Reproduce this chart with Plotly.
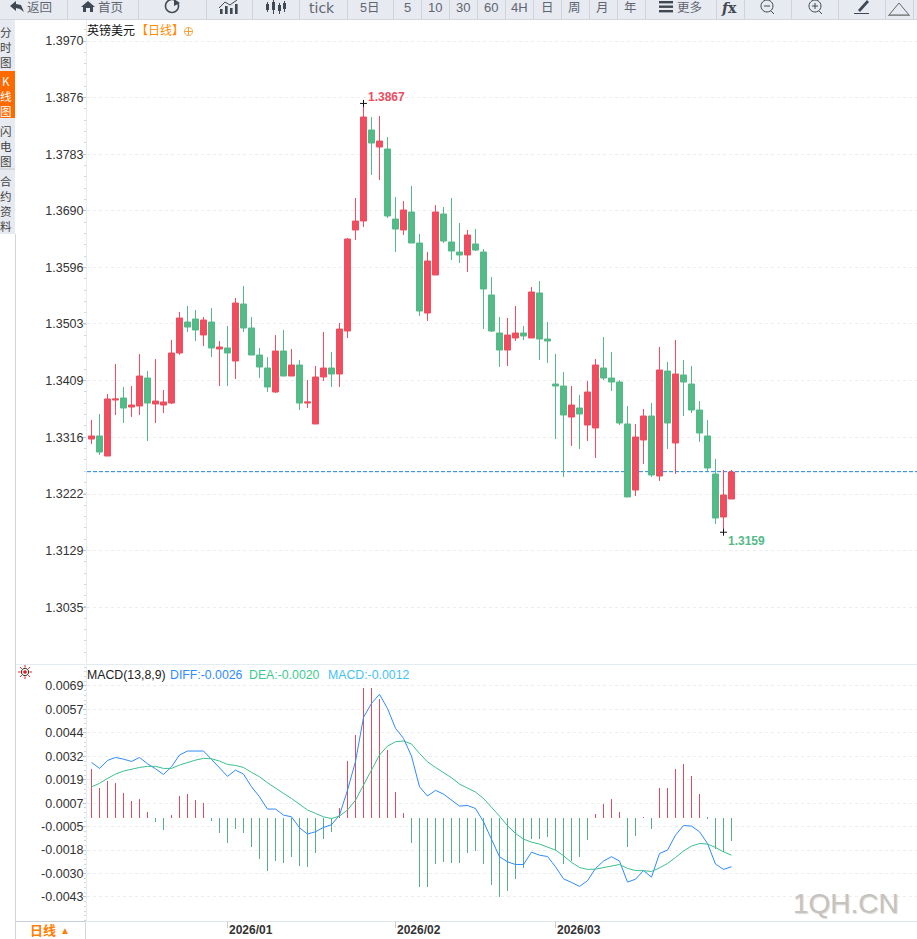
import math
import pandas as pd
import plotly.graph_objects as go

W, H = 917, 939

dates = [d.strftime("%Y-%m-%d") for d in pd.bdate_range("2025-12-10", periods=81)]

opens = [1.33129,1.33179,1.32848,1.33773,1.33806,1.33657,1.33674,1.34136,1.33707,1.33690,
1.33723,1.34549,1.35061,1.35110,1.34846,1.35061,1.34615,1.34632,1.34417,1.35358,
1.34962,1.34516,1.34301,1.33905,1.34582,1.34169,1.34351,1.33723,1.33377,1.34153,
1.34301,1.34202,1.34912,1.36580,1.36728,1.38231,1.37950,1.37917,1.36761,1.36580,
1.36877,1.36365,1.35209,1.35837,1.36844,1.36382,1.36216,1.36167,1.36349,1.36216,
1.35507,1.34879,1.34598,1.34797,1.34879,1.34797,1.35540,1.34780,1.34037,1.34004,
1.33492,1.33641,1.33360,1.33311,1.34301,1.34136,1.34070,1.33377,1.32287,1.33113,
1.33509,1.32518,1.34252,1.33063,1.34186,1.34037,1.33608,1.33179,1.32551,1.31841,1.32139]
closes = [1.33179,1.32914,1.33790,1.33790,1.33641,1.33690,1.34169,1.33723,1.33756,1.33740,
1.34549,1.35127,1.34978,1.34929,1.35094,1.34632,1.34648,1.34549,1.35374,1.34962,
1.34516,1.34318,1.33988,1.34582,1.34169,1.34351,1.33723,1.33740,1.34153,1.34301,
1.34202,1.34945,1.36431,1.36728,1.38445,1.38016,1.38049,1.36811,1.36596,1.36910,
1.36365,1.35242,1.36068,1.36877,1.36398,1.36233,1.36167,1.36497,1.36249,1.35606,
1.34912,1.34598,1.34846,1.34879,1.34830,1.35556,1.34780,1.34747,1.34004,1.33525,
1.33690,1.33542,1.33905,1.34351,1.34136,1.34070,1.33393,1.32172,1.33162,1.33509,
1.32535,1.34268,1.33393,1.34202,1.34070,1.33608,1.33228,1.32650,1.31825,1.32205,1.32584]
highs = [1.33443,1.33542,1.33872,1.34367,1.33988,1.34004,1.34532,1.34252,1.34450,1.33938,
1.34764,1.35226,1.35325,1.35259,1.35143,1.35292,1.34747,1.34995,1.35457,1.35655,
1.35143,1.34632,1.34483,1.34846,1.34929,1.34615,1.34433,1.34103,1.34334,1.34896,
1.34565,1.35044,1.36448,1.37108,1.3867,1.38445,1.38462,1.38115,1.37125,1.37058,
1.37306,1.36514,1.36216,1.36992,1.36959,1.37108,1.36695,1.36580,1.36596,1.36266,
1.35804,1.35143,1.35127,1.35325,1.34995,1.35639,1.35738,1.35061,1.34532,1.34235,
1.34004,1.33856,1.34087,1.34450,1.34813,1.34565,1.34103,1.33674,1.33377,1.33624,
1.33723,1.34648,1.34400,1.34764,1.34433,1.34334,1.33756,1.33443,1.32799,1.32617,1.32617]
lows = [1.33047,1.32865,1.32848,1.33525,1.33393,1.33492,1.33525,1.33096,1.33393,1.33558,
1.33707,1.34516,1.34896,1.34747,1.34665,1.34483,1.34004,1.34004,1.34120,1.34896,
1.34516,1.34136,1.33905,1.33889,1.34169,1.34169,1.33608,1.33641,1.33377,1.34087,
1.33988,1.33988,1.34797,1.36415,1.36629,1.37488,1.37405,1.36778,1.36216,1.36497,
1.36365,1.35160,1.35077,1.35837,1.36365,1.36084,1.36035,1.35886,1.36233,1.34945,
1.34896,1.34318,1.34334,1.34747,1.34764,1.34797,1.34433,1.34384,1.33129,1.32502,
1.33014,1.32964,1.33096,1.32815,1.34103,1.33922,1.33360,1.32172,1.32188,1.32716,
1.32502,1.32436,1.32964,1.32551,1.33509,1.33558,1.33080,1.32601,1.31726,1.3159,1.32139]

diff = [293,261,303,319,310,298,319,286,259,229,270,332,353,353,353,309,265,219,252,231,
164,111,46,46,14,5,-53,-86,-74,-51,-37,14,146,298,531,605,653,578,473,420,
326,164,115,145,125,93,62,65,49,-21,-118,-206,-233,-247,-247,-182,-198,-205,-259,-323,
-342,-363,-333,-268,-229,-206,-229,-340,-325,-279,-314,-189,-171,-92,-41,-44,-74,-136,-245,-273,-259]
dea = [164,182,208,231,247,258,266,272,272,261,261,279,293,305,314,312,300,282,277,266,
240,217,185,159,129,102,71,41,23,5,-4,9,41,93,173,252,332,379,402,406,
390,340,296,266,240,212,178,157,136,102,58,9,-42,-83,-113,-129,-139,-153,-171,-201,
-236,-263,-273,-272,-263,-254,-247,-268,-279,-280,-284,-265,-242,-210,-176,-150,-136,-139,-157,-180,-198]
macd = [257,157,194,183,131,88,99,30,-23,-65,14,115,125,93,78,-18,-81,-134,-60,-81,
-155,-219,-282,-229,-240,-208,-256,-261,-187,-113,-76,51,300,437,686,686,628,358,136,25,
-134,-367,-367,-245,-235,-240,-240,-187,-176,-245,-356,-420,-388,-325,-266,-113,-113,-102,-171,-245,
-229,-208,-118,19,72,99,30,-155,-97,4,-60,157,157,257,284,220,125,-7,-166,-182,-123]
diff = [v / 1e5 for v in diff]
dea = [v / 1e5 for v in dea]
macd = [v / 1e5 for v in macd]

price_ticks = ["1.3970","1.3876","1.3783","1.3690","1.3596","1.3503","1.3409","1.3316","1.3222","1.3129","1.3035"]
macd_ticks = ["0.0069","0.0057","0.0044","0.0032","0.0019","0.0007","-0.0005","-0.0018","-0.0030","-0.0043"]
macd_tickpos = [0.00697,0.00573,0.00449,0.00325,0.00201,0.00077,-0.00047,-0.00171,-0.00295,-0.00419]
month_ticks = {"2026/01": 17, "2026/02": 38, "2026/03": 58}
last_close = 1.3259

RED, GREEN = "#EE4E5F", "#53BA88"
HRED, HGREEN = "#DB5060", "#55AE84"
FONT = "Liberation Sans, Arial, sans-serif"
CJK = "Noto Sans CJK SC, sans-serif"
BARCJK = "Liberation Sans, Noto Sans CJK SC, sans-serif"
BAR = "#E8EAF1"
ICON = "#3F4853"
TXT = "#5F6670"

def px(x): return x / W
def py(y): return 1 - y / H

def poly(points, close=False, fill=None, color=ICON, width=1):
    d = "M" + "L".join(f"{px(x):.5f},{py(y):.5f}" for x, y in points) + ("Z" if close else "")
    return dict(type="path", xref="paper", yref="paper", path=d, layer="above",
                fillcolor=fill if fill else "rgba(0,0,0,0)",
                line=dict(color=color if width else "rgba(0,0,0,0)", width=width))

def rect(x0, y0, x1, y1, fill, line=None, layer="above"):
    return dict(type="rect", xref="paper", yref="paper", x0=px(x0), x1=px(x1), y0=py(y0), y1=py(y1),
                fillcolor=fill, layer=layer,
                line=dict(color=line if line else "rgba(0,0,0,0)", width=1 if line else 0))

def arc(cx, cy, r, a0, a1, n=24):
    return [(cx + r * math.cos(math.radians(a0 + (a1 - a0) * i / n)),
             cy + r * math.sin(math.radians(a0 + (a1 - a0) * i / n))) for i in range(n + 1)]

shapes, notes = [], []

def text(x, y, s, size=12, color="#333", anchor="center", font=CJK, bold=False, shadow=None):
    f = dict(family=font, size=size, color=color)
    if shadow:
        f["shadow"] = shadow
    notes.append(dict(xref="paper", yref="paper", x=px(x - 2 if anchor == "left" else x), y=py(y),
                      text=f"<b>{s}</b>" if bold else s, showarrow=False, xanchor=anchor, yanchor="middle",
                      borderpad=0, font=f))

# toolbar
shapes.append(rect(0, -1, W + 1, 19, BAR))
shapes.append(rect(0, 19, W + 1, 20, "#D3D6DE"))
for sx in [67,138,206,252,299,347,393,421,449,477,505,533,561,589,617,645,716,744,791,838,885,913]:
    shapes.append(rect(sx, 0, sx + 1, 19, "#D0D3DB"))
for label, x, size, fnt in [("返回", 39, 12.5, BARCJK), ("首页", 110, 12.5, BARCJK), ("5日", 369, 12.5, BARCJK),
                            ("5", 407, 13, FONT), ("10", 435, 13, FONT), ("30", 463, 13, FONT), ("60", 491, 13, FONT),
                            ("4H", 519, 13, FONT), ("日", 547, 12.5, BARCJK), ("周", 574, 12.5, BARCJK), ("月", 602, 12.5, BARCJK),
                            ("年", 630, 12.5, BARCJK), ("更多", 689, 12.5, BARCJK)]:
    text(x, 7.5, label, size, TXT, font=fnt)
text(322, 8.5, "tick", 14, TXT, font="DejaVu Sans, sans-serif")
# back arrow
shapes.append(poly([(10, 6), (16, 1), (16, 4), (21, 5), (24, 12), (20, 9), (16, 8), (16, 11)], True, ICON, ICON, 0))
# home
shapes.append(poly([(81, 7), (88, 1), (95, 7), (93, 7), (93, 12), (90, 12), (90, 8), (86, 8), (86, 12), (83, 12), (83, 7)], True, ICON, ICON, 0))
# refresh
shapes.append(poly(arc(172, 6, 6.5, -30, 290), color=ICON, width=1.6))
shapes.append(poly([(174, -1), (180, 3), (174, 6)], True, ICON, ICON, 0))
# indicator bars
for bx, by in [(220, 9), (225, 6), (230, 8), (235, 4)]:
    shapes.append(rect(bx, by, bx + 2.6, 14, ICON))
shapes.append(poly([(219, 8), (225, 2), (230, 5), (237, 0)], color=ICON, width=1))
# candle icon
for bx, t, b, t2, b2 in [(266, 4, 10, 2, 12), (272, 2, 10, 0, 14), (278, 5, 11, 3, 14), (283, 3, 9, 1, 12)]:
    shapes.append(rect(bx, t, bx + 3, b, ICON))
    shapes.append(rect(bx + 1, t2, bx + 2, b2, ICON))
# menu
for my in [1, 5.5, 10]:
    shapes.append(rect(659, my, 673, my + 2.4, ICON))
text(729, 8.5, "<i>f</i>x", 14, ICON, font="DejaVu Serif, serif", bold=True)
# magnifiers
for cx, plus in [(767, False), (815, True)]:
    shapes.append(poly(arc(cx, 6, 6, 0, 360), color=ICON, width=1))
    shapes.append(poly([(cx + 4, 11), (cx + 7, 14)], color=ICON, width=1))
    shapes.append(poly([(cx - 3, 6), (cx + 3, 6)], color=ICON, width=1))
    if plus:
        shapes.append(poly([(cx, 3), (cx, 9)], color=ICON, width=1))
# pen
shapes.append(poly([(858, 10), (867, 0), (869, 2), (860, 12)], True, ICON, ICON, 0))
shapes.append(rect(854, 13, 869, 14, ICON))
# triangle
shapes.append(poly([(889, 15), (899, 3), (909, 15)], True, None, "#666", 1))
shapes.append(rect(888, 15, 910, 16, "#888"))

# side bar
shapes.append(rect(0, 20, 15, 234, BAR))
shapes.append(rect(0, 71, 15, 118, "#FF6A00"))
shapes.append(rect(0, 168, 15, 170, "#D5D8E0"))
shapes.append(rect(15, 234, 16, H + 1, "#CFD6DC"))
for s, y, col in [("分<br>时<br>图", 47, "#444"), ("K<br>线<br>图", 96, "#fff"), ("闪<br>电<br>图", 146, "#444"), ("合<br>约<br>资<br>料", 204, "#444")]:
    text(6, y, s, 11.5, col)

# panels frames
shapes.append(rect(16, 664, W + 1, 665, "#E3ECF0"))
shapes.append(rect(16, 921, W + 1, 922, "#DFE6EB"))
shapes.append(rect(16, 921, 85.5, 922, "#C5CED6"))
shapes.append(rect(85, 922, 86, H + 1, "#CFD6DC"))
text(43, 930, "日线", 13, "#FF8000", font=BARCJK, bold=True)
text(65, 930, "▲", 10, "#FF8000", font=BARCJK)

# titles
text(88, 30, "英镑美元", 12, "#111", "left")
text(137, 30, "【日线】", 12, "#FF8C00", "left")
shapes.append(poly(arc(188.5, 31.5, 4, 0, 360), color="#F0A030", width=1))
shapes.append(poly([(184.5, 31.5), (192.5, 31.5)], color="#F0A030", width=1))
shapes.append(poly([(188.5, 27.5), (188.5, 35.5)], color="#F0A030", width=1))
text(88, 675, "MACD(13,8,9)", 12.3, "#222", "left", FONT)
text(171, 675, "DIFF:-0.0026", 12.3, "#2F8CFF", "left", FONT)
text(250, 675, "DEA:-0.0020", 12.3, "#3CCB8E", "left", FONT)
text(329, 675, "MACD:-0.0012", 12.3, "#45C2F2", "left", FONT)

# sun icon
for a in range(0, 360, 45):
    r = math.radians(a)
    shapes.append(poly([(25 + 4.5 * math.cos(r), 672 + 4.5 * math.sin(r)), (25 + 7 * math.cos(r), 672 + 7 * math.sin(r))], color="#E8211D", width=1))
shapes.append(poly(arc(25, 672, 3.6, 0, 360), color="#222", width=1))
shapes.append(poly(arc(25, 672, 1.8, 0, 360), True, "#E8211D", "#E8211D", 0))

# last price line
shapes.append(dict(type="line", xref="paper", x0=px(87), x1=1, yref="y", y0=last_close, y1=last_close, layer="below",
                   line=dict(color="#1E7FE8", width=1, dash="4px,2px")))

# watermark
text(794, 903, "1QH.CN", 28, "#C6C2BE", "left", FONT, shadow="1px 1px 1px #DDDAD6")

fig = go.Figure()
fig.add_trace(go.Candlestick(x=dates, open=opens, high=highs, low=lows, close=closes, xaxis="x", yaxis="y",
                             increasing=dict(line=dict(color=RED, width=1), fillcolor=RED),
                             decreasing=dict(line=dict(color=GREEN, width=1), fillcolor=GREEN),
                             whiskerwidth=0, hoverinfo="skip", showlegend=False))
hi_i = highs.index(max(highs))
lo_i = lows.index(min(lows))
fig.add_trace(go.Scatter(x=[dates[hi_i], dates[lo_i]], y=[highs[hi_i], lows[lo_i]], mode="markers", xaxis="x", yaxis="y",
                         marker=dict(symbol="cross-thin", size=5, line=dict(color="#111", width=1)),
                         hoverinfo="skip", showlegend=False))
fig.add_trace(go.Bar(x=dates, y=macd, xaxis="x2", yaxis="y2", width=0.125,
                     marker=dict(color=[HRED if v >= 0 else HGREEN for v in macd], line=dict(width=0)),
                     hoverinfo="skip", showlegend=False))
fig.add_trace(go.Scatter(x=dates, y=diff, mode="lines", xaxis="x2", yaxis="y2",
                         line=dict(color="#2E8BFF", width=1), hoverinfo="skip", showlegend=False))
fig.add_trace(go.Scatter(x=dates, y=dea, mode="lines", xaxis="x2", yaxis="y2",
                         line=dict(color="#3CC08C", width=1), hoverinfo="skip", showlegend=False))

notes.append(dict(xref="x", yref="y", x=dates[hi_i], y=highs[hi_i], text=f"<b>{max(highs):.4f}</b>", showarrow=False,
                  xanchor="left", yanchor="middle", xshift=2, yshift=6, font=dict(family=FONT, size=12, color=RED)))
notes.append(dict(xref="x", yref="y", x=dates[lo_i], y=lows[lo_i], text=f"<b>{min(lows):.4f}</b>", showarrow=False,
                  xanchor="left", yanchor="middle", xshift=2, yshift=-9, font=dict(family=FONT, size=12, color=GREEN)))
for label, i in month_ticks.items():
    notes.append(dict(xref="x2", yref="paper", x=dates[i], y=py(930), text=f"<b>{label}</b>", showarrow=False,
                      xanchor="left", yanchor="middle", xshift=-1, font=dict(family=FONT, size=12, color="#333")))

xrange = [-0.5625, 103.1875]
common_y = dict(showline=True, linecolor="#E6EDF2", linewidth=1, ticks="outside", ticklen=3, tickcolor="#BFC6CE",
                tickfont=dict(family=FONT, size=12.5, color="#333"), showgrid=True, gridcolor="#EDEDED", griddash="dot",
                gridwidth=1, zeroline=False, tickmode="array", fixedrange=True, ticklabelstandoff=-3)

fig.update_layout(
    width=W, height=H, autosize=False, margin=dict(l=0, r=0, t=0, b=0), paper_bgcolor="white", plot_bgcolor="white",
    boxgap=0.25, boxgroupgap=0, bargap=0, barmode="overlay", showlegend=False, shapes=shapes, annotations=notes, hovermode=False,
    xaxis=dict(domain=[px(87), 1], type="category", range=xrange, categoryorder="array", categoryarray=dates, showgrid=False,
               showticklabels=False, ticks="", rangeslider=dict(visible=False), anchor="y", zeroline=False, fixedrange=True),
    xaxis2=dict(domain=[px(87), 1], type="category", range=xrange, categoryorder="array", categoryarray=dates, showgrid=False,
                showticklabels=False, ticks="outside", ticklen=6, tickcolor="#C8CED4", tickmode="array",
                tickvals=[dates[i] for i in month_ticks.values()], anchor="y2", showline=False, zeroline=False, fixedrange=True),
    yaxis=dict(domain=[py(663), py(20)], range=[1.29431, 1.40047], tickvals=[float(t) for t in price_ticks], ticktext=price_ticks,
               anchor="x", minor=dict(ticks="outside", ticklen=2, tickcolor="#CFD6DC", tick0=1.3970, dtick=0.009344 / 5, showgrid=False),
               **common_y),
    yaxis2=dict(domain=[py(921), py(665)], range=[-0.00546, 0.00808], tickvals=macd_tickpos, ticktext=macd_ticks, anchor="x2",
                minor=dict(ticks="outside", ticklen=2, tickcolor="#CFD6DC", tick0=0.00697, dtick=0.00124 / 5, showgrid=False),
                **common_y),
)

fig.write_html("out.html", config=dict(displayModeBar=False),
               post_script="document.body.style.margin='0';document.body.style.overflow='hidden';")
